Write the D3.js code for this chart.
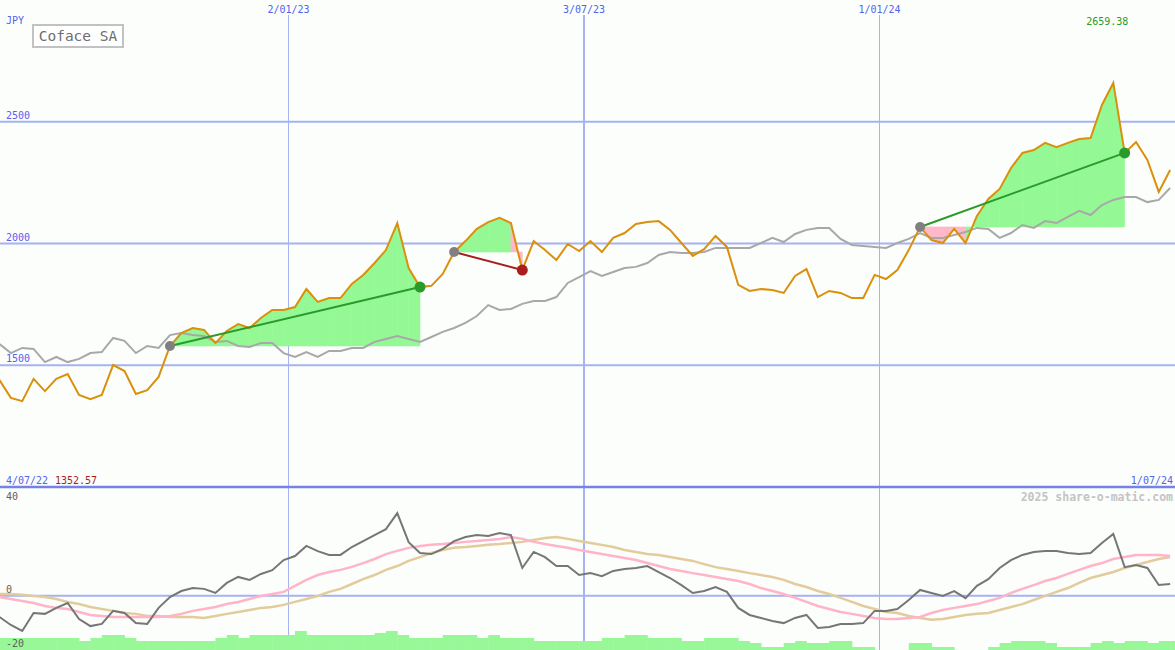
<!DOCTYPE html>
<html><head><meta charset="utf-8">
<script src="https://cdn.jsdelivr.net/npm/d3@7"></script>
<style>html,body{margin:0;padding:0;background:#fcfefc;} svg{display:block;}</style>
</head><body><svg id="c" width="1175" height="650"></svg>
<script>
// ---- data ----
const firstWeek = "2022-07-08";
const weekCount = 104;
const axisStart = "2022-07-04", axisEnd = "2024-07-01";
const dateTicks = ["2023-01-02", "2023-07-03", "2024-01-01"];
const priceTicks = [1500, 2000, 2500];
const lowerTicks = [40, 0, -20];
const lowerGrid = [0];
const currency = "JPY";
const title = "Coface SA";
const footer = "2025 share-o-matic.com";

const price = [1439,1366,1352.57,1444,1394,1444,1464,1378,1361,1378,
1501,1476,1382,1398,1452,1579,1632,1653,1645,1591,
1641,1669,1653,1694,1727,1727,1739,1813,1760,1776,
1776,1834,1871,1920,1973,2084,1899,1821,1826,1875,
1965,2010,2060,2088,2105,2084,1891,2010,1973,1932,
1998,1969,2010,1965,2023,2043,2080,2088,2092,2056,
2002,1949,1977,2031,1986,1830,1805,1813,1809,1797,
1867,1895,1780,1805,1797,1776,1776,1871,1854,1891,
1973,2068,2014,2002,2060,2002,2113,2183,2224,2310,
2372,2384,2413,2396,2413,2429,2433,2569,2659.38,2372,
2417,2343,2212,2302];

const benchmark = [1587,1550,1571,1567,1513,1534,1513,1526,1550,1554,
1612,1600,1550,1579,1571,1624,1632,1624,1620,1596,
1600,1579,1575,1591,1591,1550,1534,1554,1534,1559,
1559,1571,1571,1596,1608,1620,1608,1596,1616,1637,
1653,1674,1702,1747,1727,1731,1752,1764,1764,1780,
1838,1862,1887,1867,1883,1899,1904,1920,1953,1965,
1961,1961,1965,1982,1982,1982,1982,2002,2023,2006,
2039,2056,2064,2064,2019,1994,1990,1986,1982,2002,
2019,2043,2023,2023,2035,2047,2064,2060,2023,2043,
2076,2064,2092,2084,2109,2134,2117,2158,2179,2191,
2191,2170,2179,2228];

const momentum = [-7.85,-10.8,-13.0,-6.4,-6.7,-4.5,-2.7,-8.6,-11.2,-10.4,
-5.6,-6.4,-10.1,-10.4,-4.5,-0.5,1.7,2.8,2.5,1.0,
4.7,6.9,5.8,8.0,9.4,13.1,14.6,18.3,16.4,15.0,
15.0,17.9,20.1,22.3,24.5,30.4,19.7,15.7,15.3,17.2,
20.1,21.6,22.3,22.0,23.1,22.3,10.2,16.1,14.2,10.9,
10.9,7.6,8.3,7.2,9.1,9.8,10.2,10.9,8.7,6.5,
3.9,1.0,1.7,3.2,1.4,-4.5,-7.1,-8.2,-9.3,-10.1,
-8.2,-7.1,-11.9,-11.5,-10.4,-10.4,-10.1,-5.6,-5.6,-4.9,
-1.6,2.1,1.0,-0.1,1.7,-0.9,3.6,6.1,10.2,13.1,
15.0,16.1,16.4,16.4,15.7,15.3,15.7,19.4,22.7,10.5,
11.3,10.2,3.9,4.3];

const momentumFast = [-0.5,-1.2,-1.95,-2.7,-3.8,-4.5,-4.9,-6.0,-7.1,-7.5,
-7.85,-7.85,-7.85,-7.85,-7.85,-7.5,-6.7,-5.6,-4.9,-4.2,
-3.1,-2.3,-1.2,-0.1,0.6,1.4,3.6,5.8,7.6,8.7,
9.5,10.6,12.0,13.5,15.3,16.5,17.6,18.3,18.7,19.0,
19.4,19.8,20.1,20.5,20.9,21.6,20.9,19.8,19.0,18.3,
17.6,16.8,16.1,15.3,14.6,13.9,13.1,12.0,10.9,9.8,
9.1,8.3,7.6,6.9,6.1,5.4,4.3,2.8,1.7,0.6,
-0.8,-2.3,-3.8,-4.9,-6.0,-6.7,-7.5,-8.2,-8.6,-8.6,
-8.2,-7.85,-6.4,-5.3,-4.5,-3.8,-3.1,-1.95,-0.8,1.0,
2.5,3.9,5.4,6.5,8.0,9.5,10.9,12.0,13.5,14.2,
15.0,15.0,15.0,14.6];

const momentumSlow = [0.6,0.6,0.3,-0.1,-0.5,-1.2,-2.3,-3.1,-4.2,-4.9,
-5.6,-6.4,-6.7,-7.5,-7.5,-7.85,-7.85,-7.85,-8.2,-7.5,
-6.7,-6.0,-5.3,-4.5,-4.2,-3.4,-2.3,-1.2,-0.1,1.4,
2.5,4.3,6.1,7.6,9.5,10.9,12.8,14.2,15.7,16.8,
17.6,17.9,18.3,18.7,19.0,19.4,19.8,20.5,21.2,21.6,
20.9,20.1,19.4,18.7,17.9,16.8,16.1,15.3,15.0,14.2,
13.5,12.8,11.6,10.5,9.8,9.1,8.3,7.6,6.9,5.8,
4.3,3.2,1.7,0.6,-0.8,-2.3,-3.8,-4.9,-6.0,-6.4,
-7.5,-8.2,-8.9,-8.6,-7.85,-7.1,-6.7,-6.4,-5.3,-4.2,
-3.1,-1.6,-0.1,1.4,2.8,4.7,6.5,7.6,8.7,10.2,
11.3,12.4,13.5,14.2];

const volume = [12,12,12,12,12,12,12,9,12,15,
15,12,9,9,9,9,9,9,9,12,
15,12,15,15,15,15,19,15,15,15,
15,15,15,17,19,15,12,12,12,15,
15,15,12,15,12,12,12,9,9,9,
9,9,9,12,12,15,15,12,12,12,
9,9,12,12,12,9,7,3,3,7,
9,7,7,9,9,3,3,0,0,0,
7,7,3,3,0,0,0,3,7,9,
9,9,7,3,3,3,7,9,7,9,
9,7,9,9];

const signalStart = [15, 40, 81];
const signalEnd = [37, 46, 99];

// ---- setup ----
const W = 1175, H = 650;
const parse = d3.timeParse("%Y-%m-%d");
const t0 = parse(firstWeek);
const dates = d3.range(weekCount).map(i => d3.timeDay.offset(t0, 7 * i));
const fmt = d3.timeFormat("%-d/%m/%y");

const x = d3.scaleTime().domain([parse(axisStart), parse(axisEnd)]).range([-7, W]);
const y = d3.scaleLinear().domain([1000, 3000]).range([487, 0]);
const yl = d3.scaleLinear().domain([-20, 40]).range([650, 487]);
const yv = d3.scaleLinear().domain([0, 100]).range([650, 550]);

const C = {
  grid: "#a6b2f2", gridDark: "#7482ea", label: "#5263ee",
  orange: "#da900c", gray: "#a8a8a8", green: "#2a9a2a", red: "#a81e1e",
  fillG: "#94f994", fillP: "#ffb8c8", mom: "#767676", fast: "#ffb4c8", slow: "#e2cc9c",
  vol: "#98f898"
};
const FONT = "DejaVu Sans Mono, monospace";

const svg = d3.select("#c");
svg.append("rect").attr("width", W).attr("height", H).attr("fill", "#fcfefc");

// grid
const g = svg.append("g");
g.selectAll("line.h").data(priceTicks).join("line")
  .attr("x1", 0).attr("x2", W).attr("y1", d => y(d)).attr("y2", d => y(d))
  .attr("stroke", C.grid).attr("stroke-width", 2);
g.selectAll("line.v").data(dateTicks).join("line")
  .attr("x1", d => x(parse(d))).attr("x2", d => x(parse(d)))
  .attr("y1", 15).attr("y2", 650)
  .attr("stroke", C.grid)
  .attr("stroke-width", d => parse(d).getMonth() === 6 ? 2 : 1);
g.selectAll("line.l").data(lowerGrid).join("line")
  .attr("x1", 0).attr("x2", W).attr("y1", d => yl(d)).attr("y2", d => yl(d))
  .attr("stroke", C.grid).attr("stroke-width", 2);
g.append("line").attr("x1", 0).attr("x2", W).attr("y1", y(1000)).attr("y2", y(1000))
  .attr("stroke", C.gridDark).attr("stroke-width", 2.5);

// volume bars (over the grid)
svg.append("g").selectAll("rect").data(volume).join("rect")
  .attr("x", (d, i) => x(dates[i]))
  .attr("width", (d, i) => x(d3.timeDay.offset(dates[i], 7)) - x(dates[i]) + 0.5)
  .attr("y", d => yv(d))
  .attr("height", d => yv(0) - yv(d))
  .attr("fill", C.vol);

// signal fills
const fills = svg.append("g");
const seg = d3.area().x(d => x(d.date)).y0(d => y(d.base)).y1(d => y(d.v));
signalStart.forEach((s, k) => {
  const e = signalEnd[k], base = price[s];
  for (let i = s; i < e; i++) {
    const pts = [i, i + 1].map(j => ({date: dates[j], v: price[j], base}));
    fills.append("path").attr("d", seg(pts))
      .attr("fill", price[i + 1] >= base ? C.fillG : C.fillP)
      .attr("stroke", price[i + 1] >= base ? C.fillG : C.fillP).attr("stroke-width", 0.6);
  }
});

// lines
const line = (ys) => d3.line().x((d, i) => x(dates[i])).y(d => ys(d));
svg.append("path").datum(benchmark).attr("d", line(y)).attr("fill", "none")
  .attr("stroke", C.gray).attr("stroke-width", 2);
svg.append("path").datum(price).attr("d", line(y)).attr("fill", "none")
  .attr("stroke", C.orange).attr("stroke-width", 2);

svg.append("path").datum(momentumSlow).attr("d", line(yl)).attr("fill", "none")
  .attr("stroke", C.slow).attr("stroke-width", 2.5);
svg.append("path").datum(momentumFast).attr("d", line(yl)).attr("fill", "none")
  .attr("stroke", C.fast).attr("stroke-width", 2.5);
svg.append("path").datum(momentum).attr("d", line(yl)).attr("fill", "none")
  .attr("stroke", C.mom).attr("stroke-width", 2);

// trend lines & dots
signalStart.forEach((s, k) => {
  const e = signalEnd[k];
  const up = price[e] >= price[s];
  svg.append("line")
    .attr("x1", x(dates[s])).attr("y1", y(price[s]))
    .attr("x2", x(dates[e])).attr("y2", y(price[e]))
    .attr("stroke", up ? C.green : C.red).attr("stroke-width", 2);
  svg.append("circle").attr("cx", x(dates[s])).attr("cy", y(price[s])).attr("r", 5)
    .attr("fill", "#808080");
  svg.append("circle").attr("cx", x(dates[e])).attr("cy", y(price[e])).attr("r", 5.5)
    .attr("fill", up ? C.green : C.red);
});

// text
const txt = (t, px, py, opts = {}) => svg.append("text").text(t)
  .attr("x", px).attr("y", py)
  .attr("font-family", FONT).attr("font-size", opts.size || 10)
  .attr("font-weight", opts.weight || "normal")
  .attr("text-anchor", opts.anchor || "start")
  .attr("fill", opts.fill || C.label);

txt(currency, 6, 24);
priceTicks.forEach(v => txt(String(v), 6, y(v) - 3));
dateTicks.forEach(d => txt(fmt(parse(d)), x(parse(d)), 13, {anchor: "middle"}));
txt(fmt(parse(axisStart)), 6, 484);
txt(fmt(parse(axisEnd)), 1173, 484, {anchor: "end"});

const minI = d3.minIndex(price), maxI = d3.maxIndex(price);
txt(d3.format(".2f")(price[minI]), 55, 484, {fill: C.red});
txt(d3.format(".2f")(price[maxI]), x(dates[maxI]) - 6, 25, {anchor: "middle", fill: C.green});

lowerTicks.forEach(v => {
  const py = v === d3.max(lowerTicks) ? 500 : v === d3.min(lowerTicks) ? 647 : yl(v) - 3;
  txt(String(v), 6, py, {fill: "#606060"});
});
txt(footer, 1173, 501, {anchor: "end", fill: "#c4c4c4", size: 11.5, weight: "bold"});

// title box
svg.append("rect").attr("x", 33).attr("y", 25).attr("width", 90).attr("height", 22)
  .attr("fill", "#ffffff").attr("stroke", "#c2c2c2").attr("stroke-width", 2);
txt(title, 78, 41, {anchor: "middle", fill: "#6e6e6e", size: 14.5});
</script></body></html>
